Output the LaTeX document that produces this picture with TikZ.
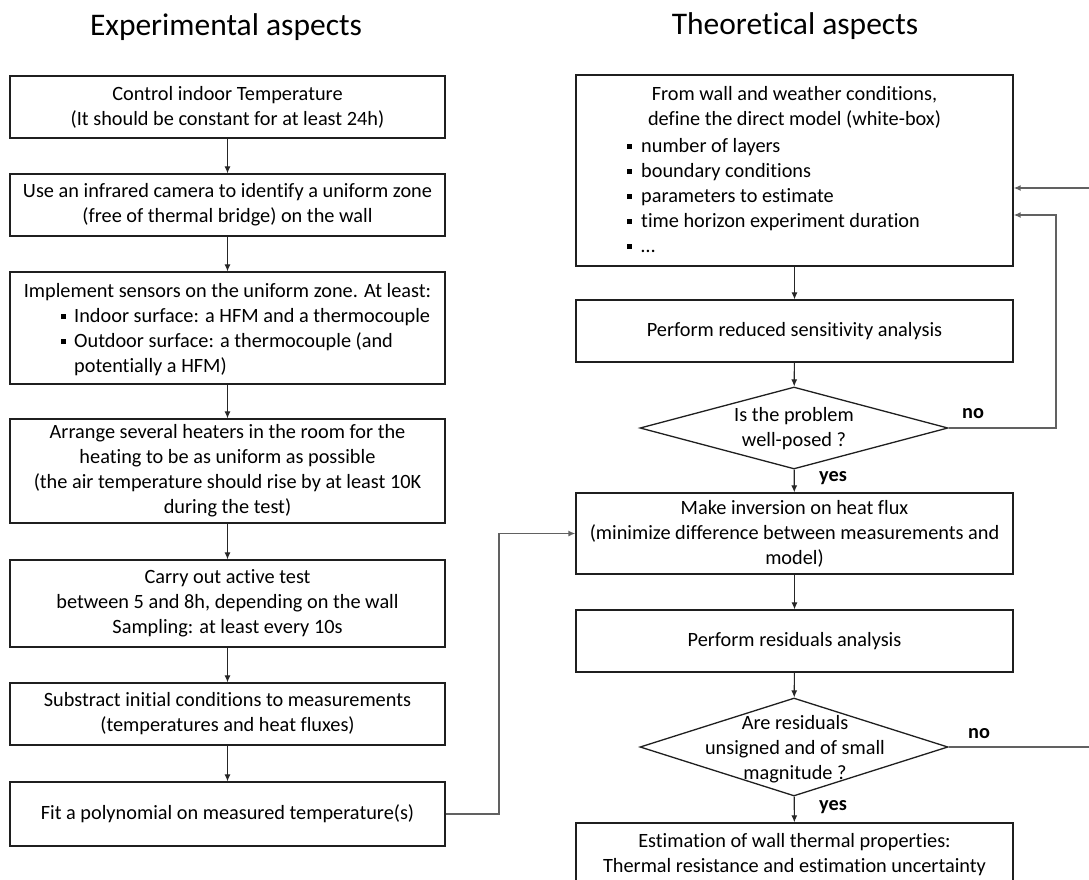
\documentclass[tikz,border=0pt]{standalone}
\usepackage{fontspec}
\setmainfont{Carlito}[Ligatures=NoCommon]
\usetikzlibrary{arrows.meta,shapes.geometric}
\newcommand{\bsq}{\rule[3bp]{5bp}{5bp}}
\tikzset{
  body/.style={font=\fontsize{20.3bp}{25bp}\selectfont},
  box/.style={draw=black!88, line width=1.3bp, inner sep=0pt, body, align=center, text=black},
  dia/.style={draw=black!88, line width=1.3bp, shape=diamond, inner sep=0pt},
  txt/.style={body, inner sep=0pt, text=black},
  ttl/.style={font=\fontsize{31.5bp}{36bp}\selectfont, inner sep=0pt, text=black},
  lbl/.style={font=\fontsize{20.3bp}{24bp}\selectfont\bfseries, inner sep=0pt, text=black},
  arr/.style={draw=black!85, line width=1.1bp, -{Latex[length=7bp,width=6bp]}},
  side/.style={draw=black!62, line width=1.5bp, -{Latex[length=7bp,width=6bp]}, color=black!62},
}
\begin{document}
\begin{tikzpicture}[x=1bp,y=-1bp]
\useasboundingbox[fill=white] (0,0) rectangle (1089,880);
% titles
\node[ttl] (t1) at (226,27) {Experimental aspects};
\node[ttl] (t2) at (795,26) {Theoretical aspects};
% left column
\node[box, minimum width=435bp, minimum height=62bp] (L1) at (227.5,107) {Control indoor Temperature\\(It should be constant for at least 24h)};
\node[box, minimum width=435bp, minimum height=62bp] (L2) at (227.5,205) {Use an infrared camera to identify a uniform zone\\(free of thermal bridge) on the wall};
\node[box, minimum width=435bp, minimum height=112bp] (L3) at (227.5,328) {};
\node[txt, anchor=base] (L3a) at (227.5,297) {Implement sensors on the uniform zone. At least:};
\node[txt, anchor=base west] (L3b) at (61,322) {\bsq\hspace{8bp}Indoor surface: a HFM and a thermocouple};
\node[txt, anchor=base west] (L3c) at (61,347) {\bsq\hspace{8bp}Outdoor surface: a thermocouple (and};
\node[txt, anchor=base west] (L3d) at (74,372) {potentially a HFM)};
\node[box, minimum width=435bp, minimum height=104bp] (L4) at (227.5,471) {Arrange several heaters in the room for the\\heating to be as uniform as possible\\(the air temperature should rise by at least 10K\\during the test)};
\node[box, minimum width=435bp, minimum height=87bp] (L5) at (227.5,603.5) {Carry out active test\\between 5 and 8h, depending on the wall\\Sampling: at least every 10s};
\node[box, minimum width=435bp, minimum height=62bp] (L6) at (227.5,714) {Substract initial conditions to measurements\\(temperatures and heat fluxes)};
\node[box, minimum width=435bp, minimum height=64bp] (L7) at (227.5,814) {Fit a polynomial on measured temperature(s)};
\draw[arr] (L1) -- (L2);
\draw[arr] (L2) -- (L3);
\draw[arr] (L3) -- (L4);
\draw[arr] (L4) -- (L5);
\draw[arr] (L5) -- (L6);
\draw[arr] (L6) -- (L7);
% right column
\node[box, minimum width=437bp, minimum height=191bp] (R1) at (794.5,170.5) {};
\node[txt, anchor=base] (R1a) at (794.5,100) {From wall and weather conditions,};
\node[txt, anchor=base] (R1b) at (794.5,125) {define the direct model (white-box)};
\node[txt, anchor=base west] (R1c) at (627,152) {\bsq\hspace{9bp}number of layers};
\node[txt, anchor=base west] (R1d) at (627,177) {\bsq\hspace{9bp}boundary conditions};
\node[txt, anchor=base west] (R1e) at (627,202) {\bsq\hspace{9bp}parameters to estimate};
\node[txt, anchor=base west] (R1f) at (627,227) {\bsq\hspace{9bp}time horizon experiment duration};
\node[txt, anchor=base west] (R1g) at (627,252) {\bsq\hspace{9bp}\ldots};
\node[box, minimum width=437bp, minimum height=62bp] (R2) at (794.5,331) {Perform reduced sensitivity analysis};
\node[dia, minimum width=308bp, minimum height=82bp] (D1) at (794,428) {};
\node[txt, align=center] (D1t) at (794,429) {Is the problem\\well-posed ?};
\node[box, minimum width=437bp, minimum height=81bp] (R3) at (794.5,533.5) {Make inversion on heat flux\\(minimize difference between measurements and\\model)};
\node[box, minimum width=437bp, minimum height=62bp] (R4) at (794.5,641) {Perform residuals analysis};
\node[dia, minimum width=308bp, minimum height=98bp] (D2) at (794,747) {};
\node[txt, align=center] (D2t) at (795,749) {Are residuals\\unsigned and of small\\magnitude ?};
\node[box, minimum width=437bp, minimum height=64bp] (R5) at (794.5,855) {Estimation of wall thermal properties:\\Thermal resistance and estimation uncertainty};
\node[lbl] (no1) at (973,414) {no};
\node[lbl] (yes1) at (833,478) {yes};
\node[lbl] (no2) at (979,734) {no};
\node[lbl] (yes2) at (833,807) {yes};
\draw[arr] (R1) -- (R2);
\draw[arr] (R2) -- (D1);
\draw[arr] (D1) -- (R3);
\draw[arr] (R3) -- (R4);
\draw[arr] (R4) -- (D2);
\draw[arr] (D2) -- (R5);
% side connectors
\coordinate (k0) at (499,814);
\draw[side] (L7.east) -- (k0) |- (R3.west);
\coordinate (k1) at (1056,215);
\draw[side] (D1.east) -| (k1) -- (k1 -| R1.east);
\coordinate (k2) at (1093,188);
\draw[side] (D2.east) -| (k2) -- (k2 -| R1.east);
\end{tikzpicture}
\end{document}
